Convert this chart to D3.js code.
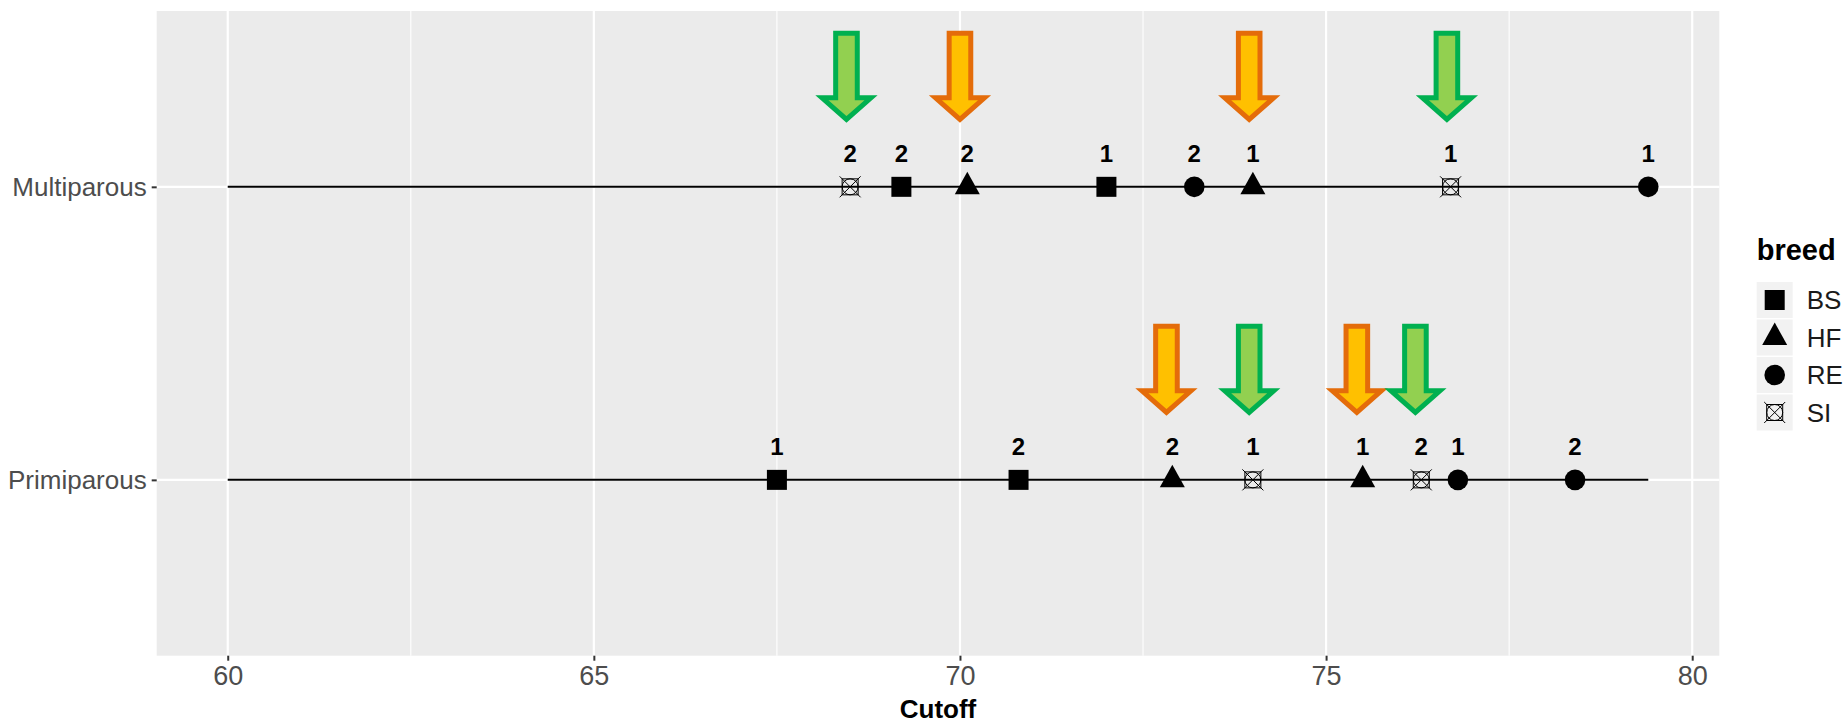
<!DOCTYPE html>
<html>
<head>
<meta charset="utf-8">
<script src="https://cdn.jsdelivr.net/npm/d3@7"></script>
<style>
  body { margin: 0; background: #fff; }
  text { font-family: "Liberation Sans", Arial, sans-serif; }
</style>
</head>
<body>
<script>
// chart data
var parity = ["Multiparous", "Multiparous", "Multiparous", "Multiparous", "Multiparous", "Multiparous", "Multiparous", "Multiparous",
              "Primiparous", "Primiparous", "Primiparous", "Primiparous", "Primiparous", "Primiparous", "Primiparous", "Primiparous"];
var breed = ["SI", "BS", "HF", "BS", "RE", "HF", "SI", "RE",
             "BS", "BS", "HF", "SI", "HF", "SI", "RE", "RE"];
var cutoff = [68.5, 69.2, 70.1, 72.0, 73.2, 74.0, 76.7, 79.4,
              67.5, 70.8, 72.9, 74.0, 75.5, 76.3, 76.8, 78.4];
var rank = ["2", "2", "2", "1", "2", "1", "1", "1",
            "1", "2", "2", "1", "1", "2", "1", "2"];

// arrows pasted over the plot
var arrowParity = ["Multiparous", "Multiparous", "Multiparous", "Multiparous",
                   "Primiparous", "Primiparous", "Primiparous", "Primiparous"];
var arrowCutoff = [68.45, 70.0, 73.95, 76.65, 72.82, 73.95, 75.42, 76.22];
var arrowKind = ["green", "orange", "orange", "green", "orange", "green", "orange", "green"];

var categories = ["Multiparous", "Primiparous"];
var breeds = ["BS", "HF", "RE", "SI"];
var xTicks = [60, 65, 70, 75, 80];
var xMinor = [62.5, 67.5, 72.5, 77.5];
var lineStart = 60;

var width = 1846, height = 723;
var panel = {left: 156.7, right: 1719.3, top: 11, bottom: 655.7};

var svg = d3.select("body").append("svg")
  .attr("width", width)
  .attr("height", height);

var lineEnd = d3.max(cutoff);
var pad = (lineEnd - lineStart) * 0.05;
var xScale = d3.scaleLinear()
  .domain([lineStart - pad, lineEnd + pad])
  .range([panel.left, panel.right]);

var yScale = d3.scalePoint()
  .domain(categories)
  .range([panel.top, panel.bottom])
  .padding(0.6);

// panel background
svg.append("rect")
  .attr("x", panel.left).attr("y", panel.top)
  .attr("width", panel.right - panel.left)
  .attr("height", panel.bottom - panel.top)
  .attr("fill", "#ebebeb");

// grid
svg.selectAll(".minor").data(xMinor).enter().append("line")
  .attr("x1", function(d) { return xScale(d); })
  .attr("x2", function(d) { return xScale(d); })
  .attr("y1", panel.top).attr("y2", panel.bottom)
  .attr("stroke", "#fff").attr("stroke-width", 1.1);

svg.selectAll(".major").data(xTicks).enter().append("line")
  .attr("x1", function(d) { return xScale(d); })
  .attr("x2", function(d) { return xScale(d); })
  .attr("y1", panel.top).attr("y2", panel.bottom)
  .attr("stroke", "#fff").attr("stroke-width", 2.2);

svg.selectAll(".hmajor").data(categories).enter().append("line")
  .attr("x1", panel.left).attr("x2", panel.right)
  .attr("y1", function(d) { return yScale(d); })
  .attr("y2", function(d) { return yScale(d); })
  .attr("stroke", "#fff").attr("stroke-width", 2.2);

// black segment per row
svg.selectAll(".seg").data(categories).enter().append("line")
  .attr("x1", xScale(lineStart)).attr("x2", xScale(lineEnd))
  .attr("y1", function(d) { return yScale(d); })
  .attr("y2", function(d) { return yScale(d); })
  .attr("stroke", "#000").attr("stroke-width", 2);

// axes
var xAxis = svg.append("g")
  .attr("transform", "translate(0," + panel.bottom + ")")
  .call(d3.axisBottom(xScale).tickValues(xTicks).tickSize(5).tickPadding(5).tickFormat(d3.format("d")));
xAxis.select(".domain").remove();
xAxis.selectAll("line").attr("stroke", "#333").attr("stroke-width", 2);
xAxis.selectAll("text").attr("fill", "#4d4d4d").style("font-size", "27px")
  .style("font-family", "'Liberation Sans', Arial, sans-serif");

var yAxis = svg.append("g")
  .attr("transform", "translate(" + panel.left + ",0)")
  .call(d3.axisLeft(yScale).tickSize(5).tickPadding(5));
yAxis.select(".domain").remove();
yAxis.selectAll("line").attr("stroke", "#333").attr("stroke-width", 2);
yAxis.selectAll("text").attr("fill", "#4d4d4d").style("font-size", "26px")
  .style("font-family", "'Liberation Sans', Arial, sans-serif");

svg.append("text")
  .attr("x", (panel.left + panel.right) / 2)
  .attr("y", 718)
  .attr("text-anchor", "middle")
  .style("font-size", "26px").style("font-weight", "bold")
  .text("Cutoff");

// shape drawing
function drawShape(g, b) {
  if (b === "BS") {
    g.append("rect").attr("x", -10).attr("y", -10).attr("width", 20).attr("height", 20).attr("fill", "#000");
  } else if (b === "HF") {
    g.append("path").attr("d", "M0,-15L12.5,7.5L-12.5,7.5Z").attr("fill", "#000");
  } else if (b === "RE") {
    g.append("circle").attr("r", 10.3).attr("fill", "#000");
  } else {
    var s = g.append("g").attr("stroke", "#000").attr("stroke-width", 1).attr("fill", "none");
    s.append("rect").attr("x", -8).attr("y", -8).attr("width", 16).attr("height", 16);
    s.append("circle").attr("r", 8);
    s.append("path").attr("d", "M-10.5,-10.5L10.5,10.5M10.5,-10.5L-10.5,10.5");
  }
}

var rows = cutoff.map(function(d, i) {
  return {parity: parity[i], breed: breed[i], cutoff: d, rank: rank[i]};
});

var pts = svg.selectAll(".pt").data(rows).enter().append("g")
  .attr("transform", function(d) { return "translate(" + xScale(d.cutoff) + "," + yScale(d.parity) + ")"; });
pts.each(function(d) { drawShape(d3.select(this), d.breed); });

svg.selectAll(".lab").data(rows).enter().append("text")
  .attr("x", function(d) { return xScale(d.cutoff); })
  .attr("y", function(d) { return yScale(d.parity) - 24.5; })
  .attr("text-anchor", "middle")
  .style("font-size", "24px").style("font-weight", "bold")
  .attr("fill", "#000")
  .text(function(d) { return d.rank; });

// arrows
var arrowColours = {
  green: {fill: "#92d050", stroke: "#00b050"},
  orange: {fill: "#ffc000", stroke: "#e46c0a"}
};
var arrowPath = "M-10.8,-153.5L10.8,-153.5L10.8,-89L24.5,-89L0,-67.5L-24.5,-89L-10.8,-89Z";

svg.selectAll(".arrow").data(arrowCutoff).enter().append("path")
  .attr("transform", function(d, i) { return "translate(" + xScale(d) + "," + yScale(arrowParity[i]) + ")"; })
  .attr("d", arrowPath)
  .attr("fill", function(d, i) { return arrowColours[arrowKind[i]].fill; })
  .attr("stroke", function(d, i) { return arrowColours[arrowKind[i]].stroke; })
  .attr("stroke-width", 5)
  .attr("stroke-miterlimit", 10);

// legend
var legend = svg.append("g").attr("transform", "translate(1756.7,0)");
legend.append("text")
  .attr("x", 0).attr("y", 260)
  .style("font-size", "29px").style("font-weight", "bold")
  .text("breed");

var keys = legend.selectAll(".key").data(breeds).enter().append("g")
  .attr("transform", function(d, i) { return "translate(0," + (282 + i * 37.5) + ")"; });
keys.append("rect")
  .attr("width", 36).attr("height", 36)
  .attr("fill", "#f2f2f2");
keys.append("g")
  .attr("transform", "translate(18,18)")
  .each(function(d) { drawShape(d3.select(this), d); });
keys.append("text")
  .attr("x", 50).attr("y", 18).attr("dy", "0.36em")
  .style("font-size", "26px")
  .attr("fill", "#1a1a1a")
  .text(function(d) { return d; });
</script>
</body>
</html>
